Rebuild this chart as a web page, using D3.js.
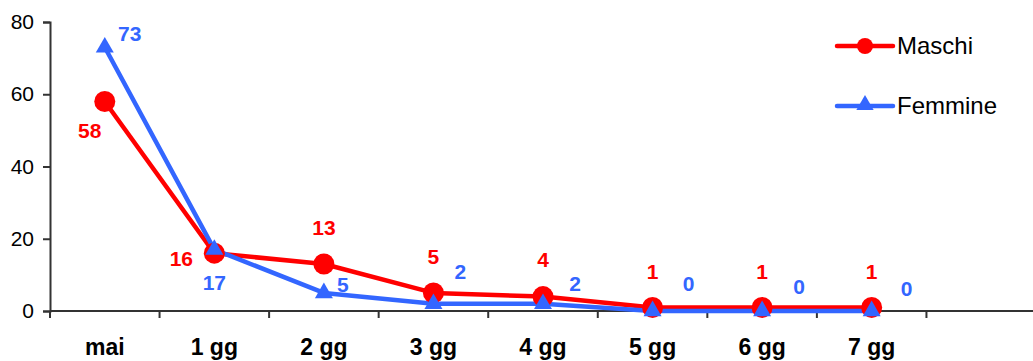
<!DOCTYPE html>
<html>
<head>
<meta charset="utf-8">
<script src="https://cdn.jsdelivr.net/npm/d3@7"></script>
<style>
  html, body { margin: 0; padding: 0; background: #fff; }
  svg { display: block; font-family: Arial, "Liberation Sans", sans-serif; }
</style>
</head>
<body>
<svg id="chart" width="1033" height="361"></svg>
<script>
// Days before first use
const categories = ["mai", "1 gg", "2 gg", "3 gg", "4 gg", "5 gg", "6 gg", "7 gg", ""];
const maschi   = [58, 16, 13, 5, 4, 1, 1, 1];
const femmine  = [73, 17, 5, 2, 2, 0, 0, 0];
const yTicks   = [0, 20, 40, 60, 80];

// Label placement relative to each point (pixels)
const maschiLabelOffset  = [[-15, 29], [-33, 5], [0, -36], [0, -36], [0, -37], [0, -36], [0, -36], [0, -36]];
const femmineLabelOffset = [[25, -14], [0, 33], [19, -8], [27, -32], [32, -20], [36, -27], [37, -24], [35, -22]];

const RED = "#ff0000", BLUE = "#3366ff";
const svg = d3.select("#chart");
const plotLeft = 50, plotRight = 1036, plotTop = 22, plotBottom = 311;

const x = d3.scaleBand().domain(categories.map((c, i) => i)).range([plotLeft, plotRight]);
const y = d3.scaleLinear().domain([0, 80]).range([plotBottom, plotTop]);

// Axes
const yAxis = svg.append("g").attr("transform", `translate(${plotLeft},0)`)
  .call(d3.axisLeft(y).tickValues(yTicks).tickSize(7).tickPadding(9));
yAxis.select(".domain").attr("stroke", "#333").attr("stroke-width", 2);
yAxis.selectAll(".tick line").attr("stroke", "#333").attr("stroke-width", 2);
yAxis.selectAll(".tick text").attr("font-size", 21).attr("fill", "#000")
  .attr("font-family", "Arial, 'Liberation Sans', sans-serif");

const xAxis = svg.append("g").attr("transform", `translate(0,${plotBottom})`);
xAxis.append("line").attr("x1", plotLeft).attr("x2", 1033).attr("y1", 0).attr("y2", 0)
  .attr("stroke", "#333").attr("stroke-width", 2);
xAxis.selectAll(".tk").data(categories.map((c, i) => i)).enter().append("line")
  .attr("x1", d => x(d)).attr("x2", d => x(d)).attr("y1", 0).attr("y2", 7)
  .attr("stroke", "#333").attr("stroke-width", 2);
xAxis.selectAll(".lbl").data(categories).enter().append("text")
  .attr("x", (d, i) => x(i) + x.bandwidth() / 2).attr("y", 44)
  .attr("text-anchor", "middle").attr("font-size", 23).attr("font-weight", "bold")
  .attr("fill", "#000").text(d => d);

const cx = i => x(i) + x.bandwidth() / 2;
const line = d3.line().x((d, i) => cx(i)).y(d => y(d));

// Series lines
svg.append("path").datum(maschi).attr("d", line).attr("fill", "none")
  .attr("stroke", RED).attr("stroke-width", 4.5).attr("stroke-linejoin", "round");
svg.append("path").datum(femmine).attr("d", line).attr("fill", "none")
  .attr("stroke", BLUE).attr("stroke-width", 4.5).attr("stroke-linejoin", "round");

// Markers
svg.selectAll(".m").data(maschi).enter().append("circle")
  .attr("cx", (d, i) => cx(i)).attr("cy", d => y(d)).attr("r", 10.5).attr("fill", RED);
const tri = d3.symbol().type(d3.symbolTriangle).size(140);
svg.selectAll(".f").data(femmine).enter().append("path")
  .attr("d", tri).attr("fill", BLUE)
  .attr("transform", (d, i) => `translate(${cx(i)},${y(d)})`);

// Value labels
svg.selectAll(".ml").data(maschi).enter().append("text")
  .attr("x", (d, i) => cx(i) + maschiLabelOffset[i][0])
  .attr("y", (d, i) => y(d) + maschiLabelOffset[i][1])
  .attr("dy", "0.35em").attr("text-anchor", "middle")
  .attr("font-size", 21).attr("font-weight", "bold").attr("fill", RED).text(d => d);
svg.selectAll(".fl").data(femmine).enter().append("text")
  .attr("x", (d, i) => cx(i) + femmineLabelOffset[i][0])
  .attr("y", (d, i) => y(d) + femmineLabelOffset[i][1])
  .attr("dy", "0.35em").attr("text-anchor", "middle")
  .attr("font-size", 21).attr("font-weight", "bold").attr("fill", BLUE).text(d => d);

// Legend
const legend = [
  { name: "Maschi", color: RED, shape: "circle", y: 46 },
  { name: "Femmine", color: BLUE, shape: "triangle", y: 106 }
];
const lg = svg.append("g");
legend.forEach(l => {
  lg.append("line").attr("x1", 837).attr("x2", 893).attr("y1", l.y).attr("y2", l.y)
    .attr("stroke", l.color).attr("stroke-width", 4.5).attr("stroke-linecap", "round");
  if (l.shape === "circle") {
    lg.append("circle").attr("cx", 865).attr("cy", l.y).attr("r", 8).attr("fill", l.color);
  } else {
    lg.append("path").attr("d", d3.symbol().type(d3.symbolTriangle).size(130))
      .attr("transform", `translate(865,${l.y - 1})`).attr("fill", l.color);
  }
  lg.append("text").attr("x", 897).attr("y", l.y).attr("dy", "0.35em")
    .attr("font-size", 24).attr("fill", "#000").text(l.name);
});
</script>
</body>
</html>
